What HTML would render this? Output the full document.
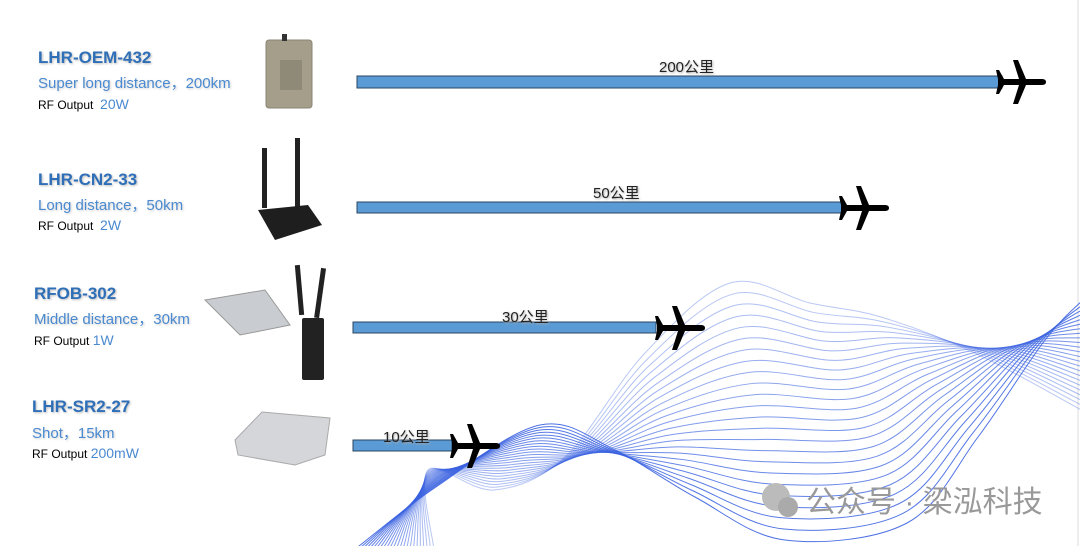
<!DOCTYPE html>
<html><head><meta charset="utf-8">
<style>
body{margin:0;background:#fff;}
#c{position:relative;width:1080px;height:546px;overflow:hidden;background:#fff;font-family:"Liberation Sans","Noto Sans CJK SC",sans-serif;}
.t{position:absolute;color:#2e6fb7;font-weight:bold;font-size:17px;text-shadow:1px 1px 2px #bbb;}
.s{position:absolute;color:#4a8ad0;font-size:15px;text-shadow:1px 1px 2px #ccc;}
.r{position:absolute;color:#000;font-size:12px;}
.r b{font-weight:normal;color:#4a8ad0;font-size:14px;}
.l{position:absolute;font-size:15px;color:#222;text-shadow:1px 1px 2px #aaa;}
</style></head><body>
<div id="c">
<svg width="1080" height="546" style="position:absolute;left:0;top:0">
<line x1="1078" y1="0" x2="1078" y2="546" stroke="#ddd"/>
<g id="w" fill="none" stroke="#3a62e0" stroke-width="1"></g>
<rect x="266" y="40" width="46" height="68" rx="3" fill="#a59e8a" stroke="#8a8474"/>
<rect x="282" y="34" width="5" height="7" fill="#333"/>
<rect x="280" y="60" width="22" height="30" fill="#8f8977"/>
<rect x="262" y="148" width="5" height="60" fill="#222"/>
<rect x="295" y="138" width="5" height="70" fill="#222"/>
<polygon points="258,210 308,205 322,225 275,240" fill="#1e1e1e"/>
<polygon points="205,300 265,290 290,325 240,335" fill="#c9ccd0" stroke="#999"/>
<rect x="297" y="265" width="5" height="50" fill="#222" transform="rotate(-5 300 290)"/>
<rect x="318" y="268" width="5" height="50" fill="#222" transform="rotate(8 320 290)"/>
<rect x="302" y="318" width="22" height="62" rx="2" fill="#222"/>
<polygon points="235,440 262,412 330,418 325,455 295,465 238,455" fill="#d4d6da" stroke="#aaa"/>
<rect x="357" y="76" width="645" height="12" fill="#5b9bd5" stroke="#2b4660"/>
<rect x="357" y="202" width="485" height="11" fill="#5b9bd5" stroke="#2b4660"/>
<rect x="353" y="322" width="303" height="11" fill="#5b9bd5" stroke="#2b4660"/>
<rect x="353" y="440" width="99" height="11" fill="#5b9bd5" stroke="#2b4660"/>
<defs><path id="p" d="M0,0 C0,-3 -3,-3 -6,-3 L-20,-3 L-28,-22 L-33,-22 L-27,-3 L-42,-3 L-47,-12 L-50,-12 L-48,-3 L-48,3 L-50,12 L-47,12 L-42,3 L-27,3 L-33,22 L-28,22 L-20,3 L-6,3 C-3,3 0,3 0,0 Z" fill="#000"/></defs>
<use href="#p" x="1046" y="82"/>
<use href="#p" x="889" y="208"/>
<use href="#p" x="705" y="328"/>
<use href="#p" x="500" y="446"/>
<circle cx="776" cy="497" r="14" fill="#bbb"/>
<circle cx="788" cy="507" r="10" fill="#aaa"/>
<text x="806" y="512" font-size="30" fill="#999" font-family="Liberation Sans,Noto Sans CJK SC,sans-serif">公众号 · 梁泓科技</text>
</svg>
<div class="t" style="left:38px;top:48px">LHR-OEM-432</div>
<div class="s" style="left:38px;top:72px">Super long distance，200km</div>
<div class="r" style="left:38px;top:96px">RF Output &nbsp;<b>20W</b></div>
<div class="t" style="left:38px;top:170px">LHR-CN2-33</div>
<div class="s" style="left:38px;top:194px">Long distance，50km</div>
<div class="r" style="left:38px;top:217px">RF Output &nbsp;<b>2W</b></div>
<div class="t" style="left:34px;top:284px">RFOB-302</div>
<div class="s" style="left:34px;top:308px">Middle distance，30km</div>
<div class="r" style="left:34px;top:332px">RF Output <b>1W</b></div>
<div class="t" style="left:32px;top:397px">LHR-SR2-27</div>
<div class="s" style="left:32px;top:422px">Shot，15km</div>
<div class="r" style="left:32px;top:445px">RF Output <b>200mW</b></div>
<div class="l" style="left:659px;top:56px">200公里</div>
<div class="l" style="left:593px;top:182px">50公里</div>
<div class="l" style="left:502px;top:306px">30公里</div>
<div class="l" style="left:383px;top:426px">10公里</div>
</div>
<script>
var A=[[434,550],[453,470],[519,490],[590,457],[670,353],[755,283],[835,303],[906,317],[1000,353],[1085,412]];
var B=[[354,550],[411,487],[515,425],[590,450],[670,497],[760,540],[882,523],[953,437],[1020,340],[1085,298]];
var g=document.getElementById('w'),N=24,s='';
for(var i=0;i<N;i++){var t=i/(N-1),P=A.map(function(a,k){var sh=(k>0&&k<A.length-1)?(t-0.5)*50:0;return[a[0]+(B[k][0]-a[0])*t+sh,a[1]+(B[k][1]-a[1])*t]});
var d='M'+P[0][0]+','+P[0][1];
for(var k=0;k<P.length-1;k++){var p0=P[k>0?k-1:k],p1=P[k],p2=P[k+1],p3=P[k+2<P.length?k+2:k+1];
d+=' C'+(p1[0]+(p2[0]-p0[0])/6)+','+(p1[1]+(p2[1]-p0[1])/6)+' '+(p2[0]-(p3[0]-p1[0])/6)+','+(p2[1]-(p3[1]-p1[1])/6)+' '+p2[0]+','+p2[1];}
s+='<path stroke-opacity="'+(0.35+0.55*t).toFixed(2)+'" d="'+d+'"/>';}
g.innerHTML=s;
</script>
</body></html>
